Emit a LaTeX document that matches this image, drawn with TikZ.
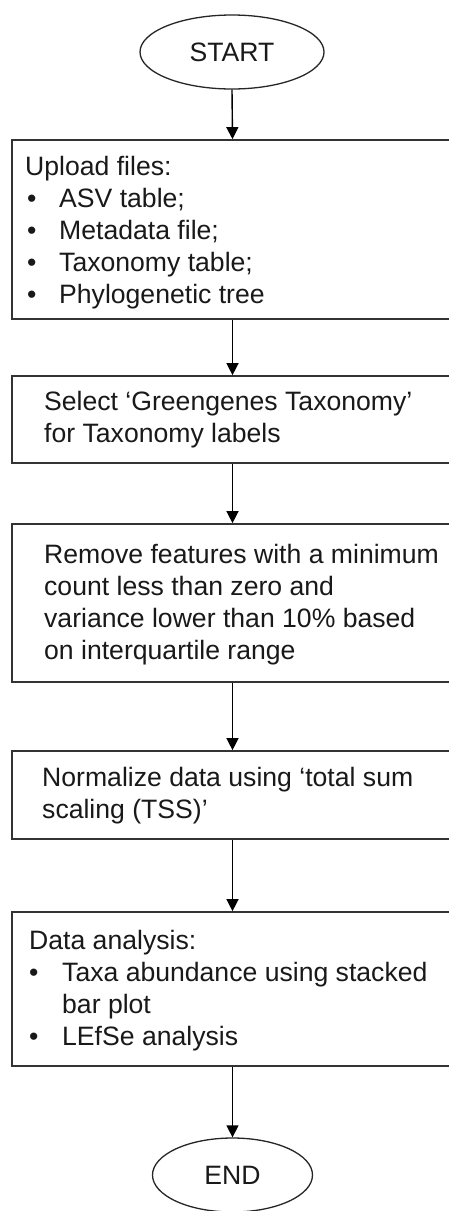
\documentclass[tikz,border=0pt]{standalone}
\usepackage{fontspec}
\setmainfont{Liberation Sans}
\usetikzlibrary{shapes.geometric,arrows.meta}
\begin{document}
\begin{tikzpicture}[x=1pt,y=-1pt,
  every node/.style={font=\fontsize{26.6}{32}\selectfont, text=black!90},
  term/.style={draw=black!85, line width=1.3pt, ellipse, inner sep=0pt},
  procbox/.style={draw=black!80, line width=1.7pt, rectangle, inner sep=0pt, minimum width=441pt},
  txt/.style={anchor=base west, inner sep=0pt},
  flow/.style={draw=black, line width=1.4pt, -{Triangle[length=12pt,width=12pt]}}
]
\useasboundingbox (0,0) rectangle (449,1211);
\clip (0,0) rectangle (449,1211);
\fill[white] (0,0) rectangle (449,1211);

\node[term, minimum width=184pt, minimum height=74pt] (start) at (232,52) {START};

\node[procbox, minimum height=179pt] (b1) at (232.5,229.5) {};
\node[txt] (t1) at (25,175.7) {\begin{tabular}[t]{@{}l@{}}
Upload files:\\
\hspace{2pt}\makebox[32pt][l]{•}ASV table;\\
\hspace{2pt}\makebox[32pt][l]{•}Metadata file;\\
\hspace{2pt}\makebox[32pt][l]{•}Taxonomy table;\\
\hspace{2pt}\makebox[32pt][l]{•}Phylogenetic tree
\end{tabular}};

\node[procbox, minimum height=87pt] (b2) at (232.5,419.5) {};
\node[txt] (t2) at (44,410) {\begin{tabular}[t]{@{}l@{}}
Select ‘Greengenes Taxonomy’\\
for Taxonomy labels
\end{tabular}};

\node[procbox, minimum height=158pt] (b3) at (232.5,603) {};
\node[txt] (t3) at (44,563.3) {\begin{tabular}[t]{@{}l@{}}
Remove features with a minimum\\
count less than zero and\\
variance lower than 10\% based\\
on interquartile range
\end{tabular}};

\node[procbox, minimum height=88pt] (b4) at (232.5,795) {};
\node[txt] (t4) at (42,786.7) {\begin{tabular}[t]{@{}l@{}}
Normalize data using ‘total sum\\
scaling (TSS)’
\end{tabular}};

\node[procbox, minimum height=154pt] (b5) at (232.5,989) {};
\node[txt] (t5) at (29,949.3) {\begin{tabular}[t]{@{}l@{}}
Data analysis:\\
\makebox[33pt][l]{•}Taxa abundance using stacked\\
\hspace{33pt}bar plot\\
\makebox[33pt][l]{•}LEfSe analysis
\end{tabular}};

\node[term, minimum width=160pt, minimum height=74pt] (end) at (232.5,1175) {END};

\draw[flow] (start.south) -- (b1.north);
\draw[flow] (b1.south) -- (b2.north);
\draw[flow] (b2.south) -- (b3.north);
\draw[flow] (b3.south) -- (b4.north);
\draw[flow] (b4.south) -- (b5.north);
\draw[flow] (b5.south) -- (end.north);
\end{tikzpicture}
\end{document}
